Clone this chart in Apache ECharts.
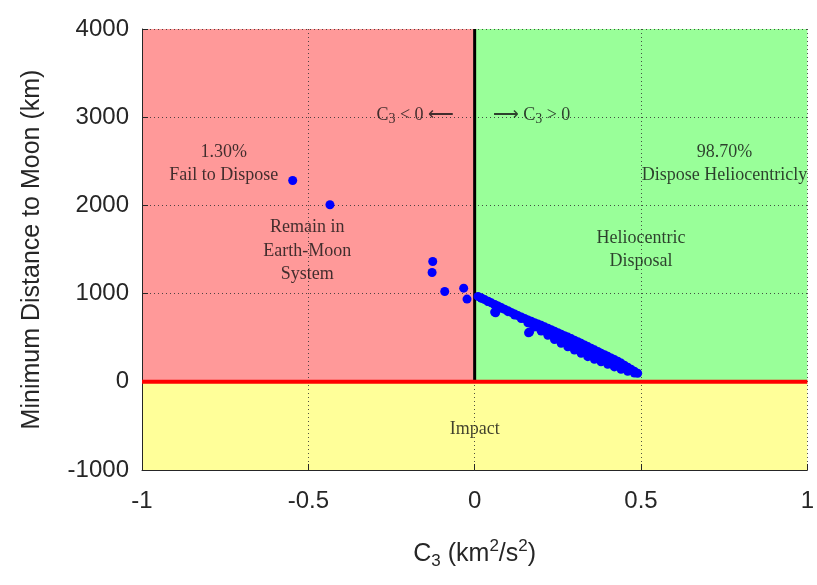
<!DOCTYPE html>
<html>
<head>
<meta charset="utf-8">
<script src="https://cdn.jsdelivr.net/npm/echarts@6/dist/echarts.min.js"></script>
<style>
html,body{margin:0;padding:0;background:#fff;}
#chart{width:817px;height:585px;}
</style>
</head>
<body>
<div id="chart"></div>
<script>
// Axis ranges / ticks
var xTicks = [-1, -0.5, 0, 0.5, 1];
var yTicks = [-1000, 0, 1000, 2000, 3000, 4000];

// Region bounds [x0, y0, x1, y1]
var regionFail = [-1, 0, 0, 4000];
var regionHelio = [0, 0, 1, 4000];
var regionImpact = [-1, -1000, 1, 0];

// Boundary lines
var impactLine = [[-1, 0], [1, 0]];
var c3ZeroLine = [[0, 0], [0, 4000]];

// Points with C3 < 0 (fail to dispose)
var failPoints = [
  [-0.547, 2282], [-0.435, 2007], [-0.126, 1364], [-0.128, 1239],
  [-0.090, 1024], [-0.033, 1062], [-0.023, 938]
];

// Points with C3 > 0 (heliocentric disposal): upper edge, middle, lower edge of the band
var helioTop = [
  [0.01, 968], [0.02, 950], [0.03, 932], [0.04, 913], [0.05, 895], [0.06, 877],
  [0.07, 859], [0.08, 841], [0.09, 823], [0.10, 805], [0.11, 787], [0.12, 769],
  [0.13, 751], [0.14, 735], [0.15, 718], [0.16, 702], [0.17, 686], [0.18, 670],
  [0.19, 655], [0.20, 640], [0.21, 623], [0.22, 607], [0.23, 590], [0.24, 573],
  [0.25, 557], [0.26, 540], [0.27, 523], [0.28, 507], [0.29, 490], [0.30, 472],
  [0.31, 454], [0.32, 436], [0.33, 418], [0.34, 399], [0.35, 380], [0.36, 362],
  [0.37, 344], [0.38, 325], [0.39, 307], [0.40, 289], [0.41, 271], [0.42, 252],
  [0.43, 234], [0.44, 212], [0.45, 189], [0.46, 166], [0.47, 143], [0.48, 120],
  [0.49, 97]
];
var helioMid = [
  [0.17, 660], [0.19, 620], [0.21, 580], [0.23, 540], [0.25, 505], [0.27, 470],
  [0.29, 440], [0.31, 400], [0.33, 360], [0.35, 325], [0.37, 295], [0.39, 260],
  [0.41, 230], [0.43, 195], [0.45, 165]
];
var helioBottom = [
  [0.02, 948], [0.04, 910], [0.06, 872], [0.060, 790], [0.063, 782], [0.08, 834],
  [0.10, 795], [0.12, 756], [0.14, 718], [0.16, 670], [0.162, 556], [0.165, 565],
  [0.18, 622], [0.20, 575], [0.22, 527], [0.24, 480], [0.26, 436], [0.28, 398],
  [0.30, 360], [0.32, 323], [0.34, 285], [0.36, 256], [0.38, 227], [0.40, 198],
  [0.42, 169], [0.44, 141], [0.46, 120], [0.48, 100]
];

// Annotations [x, y, text, align]
var annotations = [
  [-0.754, 2600, '1.30%', 'center'],
  [-0.754, 2345, 'Fail to Dispose', 'center'],
  [-0.503, 1750, 'Remain in', 'center'],
  [-0.503, 1485, 'Earth-Moon', 'center'],
  [-0.503, 1220, 'System', 'center'],
  [0.751, 2600, '98.70%', 'center'],
  [0.751, 2345, 'Dispose Heliocentricly', 'center'],
  [0.500, 1630, 'Heliocentric', 'center'],
  [0.500, 1370, 'Disposal', 'center'],
  [0.000, -540, 'Impact', 'center'],
  [-0.062, 3020, '{t|C}{s|3}{t| < 0 ⟵}', 'right'],
  [0.054, 3020, '{t|⟶ C}{s|3}{t| > 0}', 'left']
];

var helioPoints = helioTop.concat(helioMid, helioBottom);

var serif = '"Liberation Serif", "Times New Roman", serif';
var sans = '"Liberation Sans", Arial, Helvetica, sans-serif';
var textCol = '#262626';

function area(r, color) {
  return [{ coord: [r[0], r[1]], itemStyle: { color: color, opacity: 1 } }, { coord: [r[2], r[3]] }];
}

var chart = echarts.init(document.getElementById('chart'), null, { renderer: 'canvas' });
chart.setOption({
  animation: false,
  backgroundColor: '#ffffff',
  grid: { left: 142, right: 7, top: 29, bottom: 115, containLabel: false },
  xAxis: {
    type: 'value', min: xTicks[0], max: xTicks[xTicks.length - 1], interval: 0.5, z: 6,
    name: '{n|C}{sub|3}{n| (km}{sup|2}{n|/s}{sup|2}{n|)}',
    nameLocation: 'middle', nameGap: 68,
    nameTextStyle: {
      color: textCol, fontFamily: sans,
      rich: {
        n: { fontSize: 25, fontFamily: sans, color: textCol, lineHeight: 32 },
        sub: { fontSize: 17, fontFamily: sans, color: textCol, verticalAlign: 'bottom', lineHeight: 17, padding: [14, 0, 0, 0] },
        sup: { fontSize: 17, fontFamily: sans, color: textCol, verticalAlign: 'top', lineHeight: 17 }
      }
    },
    axisLine: { show: true, onZero: false, lineStyle: { color: textCol, width: 1 } },
    axisTick: { show: true, inside: true, length: 6, lineStyle: { color: textCol } },
    axisLabel: { color: textCol, fontSize: 24, fontFamily: sans, margin: 19 },
    splitLine: { show: true, lineStyle: { color: '#333', width: 1, type: [1, 3], opacity: 0.85 } }
  },
  yAxis: {
    type: 'value', min: yTicks[0], max: yTicks[yTicks.length - 1], interval: 1000, z: 6,
    name: 'Minimum Distance to Moon (km)',
    nameLocation: 'middle', nameGap: 97,
    nameTextStyle: { color: textCol, fontSize: 25, fontFamily: sans },
    axisLine: { show: true, onZero: false, lineStyle: { color: textCol, width: 1 } },
    axisTick: { show: true, inside: true, length: 6, lineStyle: { color: textCol } },
    axisLabel: { color: textCol, fontSize: 24, fontFamily: sans, margin: 13, formatter: function (v) { return String(v); } },
    splitLine: { show: true, lineStyle: { color: '#333', width: 1, type: [1, 3], opacity: 0.85 } }
  },
  series: [
    {
      type: 'scatter', data: [], z: 0, zlevel: 0, silent: true,
      markArea: {
        silent: true, z: 0,
        data: [
          area(regionFail, '#ff9999'),
          area(regionHelio, '#99ff99'),
          area(regionImpact, '#ffff99')
        ]
      }
    },
    {
      type: 'line', data: c3ZeroLine, z: 8, symbol: 'none', silent: true,
      lineStyle: { color: '#000000', width: 3 }
    },
    {
      type: 'line', data: impactLine, z: 9, symbol: 'none', silent: true,
      lineStyle: { color: '#ff0000', width: 4 }
    },
    {
      type: 'scatter', data: failPoints, z: 10, symbol: 'circle', symbolSize: 9,
      itemStyle: { color: '#0000ff', opacity: 1 }
    },
    {
      type: 'scatter', data: helioPoints, z: 10, symbol: 'circle', symbolSize: 9,
      itemStyle: { color: '#0000ff', opacity: 1 }
    },
    {
      type: 'scatter', z: 11, symbolSize: 0, silent: true,
      data: annotations.map(function (a) {
        return {
          value: [a[0], a[1]],
          label: {
            show: true, position: 'inside', formatter: a[2], align: a[3],
            verticalAlign: 'middle', color: '#111111', fontSize: 18, fontFamily: serif,
            rich: {
              t: { fontSize: 18, fontFamily: serif, color: '#111111', lineHeight: 22 },
              s: { fontSize: 14, fontFamily: serif, color: '#111111', verticalAlign: 'bottom', lineHeight: 14, padding: [12, 0, 0, 0] }
            }
          }
        };
      })
    }
  ]
});
</script>
</body>
</html>
